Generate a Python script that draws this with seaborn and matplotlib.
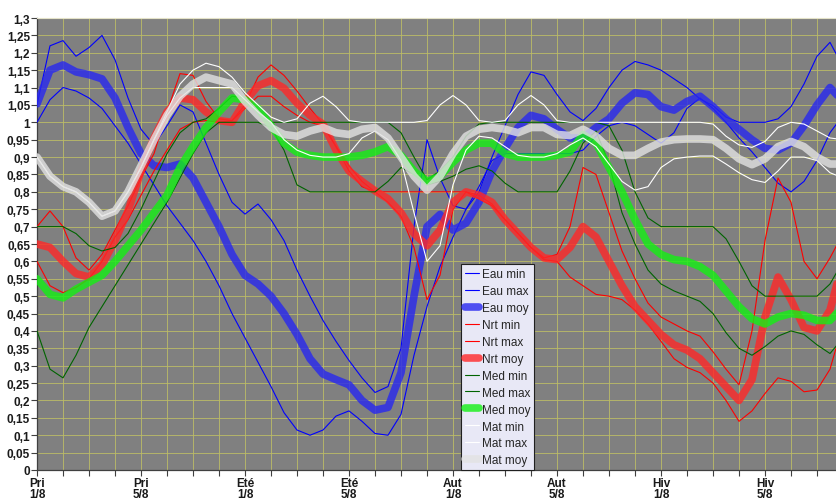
import matplotlib
matplotlib.use("Agg")
import matplotlib.pyplot as plt
import numpy as np
import pandas as pd
import seaborn as sns
from matplotlib.ticker import FuncFormatter, MultipleLocator

# x axis: one step per eighth of a season, curves read every half step
season_labels = ["Pri\n1/8", "Pri\n5/8", "Eté\n1/8", "Eté\n5/8",
                 "Aut\n1/8", "Aut\n5/8", "Hiv\n1/8", "Hiv\n5/8"]
steps = np.arange(63) * 0.5

eau_min = [1.0, 1.065, 1.10, 1.09, 1.07, 1.04, 0.99, 0.94, 0.88, 0.82,
           0.76, 0.71, 0.66, 0.60, 0.53, 0.45, 0.38, 0.31, 0.24, 0.165,
           0.115, 0.10, 0.115, 0.155, 0.17, 0.14, 0.105, 0.10, 0.16, 0.33,
           0.47, 0.585, 0.67, 0.75, 0.815, 0.89, 0.91, 0.91, 0.91, 0.91,
           0.91, 0.91, 0.92, 0.96, 0.99, 1.0, 0.99, 0.965, 0.94, 0.97,
           1.04, 1.07, 1.04, 1.0, 0.955, 0.915, 0.87, 0.825, 0.80, 0.83,
           0.89, 0.97, 1.02]
eau_max = [1.05, 1.22, 1.235, 1.19, 1.215, 1.25, 1.18, 1.07, 0.98, 0.935,
           0.99, 1.05, 1.03, 0.94, 0.85, 0.77, 0.736, 0.765, 0.72, 0.66,
           0.575, 0.50, 0.43, 0.37, 0.315, 0.265, 0.223, 0.24, 0.35, 0.70,
           0.95, 0.84, 0.76, 0.75, 0.80, 0.90, 0.99, 1.08, 1.145, 1.135,
           1.08, 1.03, 1.005, 1.04, 1.10, 1.15, 1.175, 1.165, 1.15, 1.125,
           1.10, 1.067, 1.048, 1.015, 1.0, 1.0, 1.0, 1.01, 1.045, 1.11,
           1.19, 1.23, 1.16]
eau_moy = [1.053, 1.15, 1.165, 1.145, 1.137, 1.125, 1.07, 0.985, 0.91, 0.875,
           0.87, 0.88, 0.84, 0.77, 0.70, 0.62, 0.56, 0.535, 0.50, 0.45,
           0.39, 0.32, 0.276, 0.26, 0.245, 0.20, 0.172, 0.18, 0.28, 0.50,
           0.70, 0.735, 0.69, 0.71, 0.77, 0.86, 0.925, 0.985, 1.02, 1.01,
           0.98, 0.955, 0.955, 0.985, 1.01, 1.055, 1.085, 1.08, 1.045, 1.035,
           1.06, 1.075, 1.045, 1.01, 0.98, 0.95, 0.925, 0.92, 0.94, 0.99,
           1.05, 1.10, 1.06]

nrt_min = [0.60, 0.53, 0.51, 0.525, 0.55, 0.60, 0.67, 0.72, 0.79, 0.86,
           0.92, 0.98, 1.0, 1.005, 1.0, 1.005, 1.04, 1.075, 1.075, 1.045,
           1.02, 1.0, 0.99, 0.93, 0.875, 0.83, 0.80, 0.77, 0.73, 0.64,
           0.49, 0.56, 0.75, 0.80, 0.78, 0.76, 0.72, 0.68, 0.64, 0.605,
           0.60, 0.555, 0.53, 0.505, 0.50, 0.49, 0.46, 0.42, 0.37, 0.32,
           0.295, 0.28, 0.25, 0.20, 0.14, 0.17, 0.22, 0.265, 0.255, 0.225,
           0.23, 0.29, 0.42]
nrt_max = [0.70, 0.745, 0.70, 0.61, 0.575, 0.62, 0.69, 0.76, 0.84, 0.91,
           1.03, 1.14, 1.135, 1.06, 1.01, 1.005, 1.05, 1.13, 1.165, 1.135,
           1.09, 1.04, 0.995, 0.93, 0.86, 0.815, 0.80, 0.80, 0.80, 0.80,
           0.80, 0.80, 0.80, 0.80, 0.79, 0.765, 0.72, 0.68, 0.64, 0.61,
           0.62, 0.70, 0.87, 0.85, 0.74, 0.63, 0.55, 0.48, 0.44, 0.42,
           0.40, 0.385, 0.34, 0.29, 0.245, 0.40, 0.66, 0.84, 0.77, 0.60,
           0.55, 0.61, 0.68]
nrt_moy = [0.65, 0.64, 0.60, 0.565, 0.555, 0.59, 0.66, 0.745, 0.86, 0.955,
           1.03, 1.07, 1.065, 1.03, 1.005, 1.0, 1.06, 1.105, 1.12, 1.098,
           1.055, 1.02, 0.995, 0.92, 0.86, 0.83, 0.803, 0.78, 0.74, 0.68,
           0.645, 0.69, 0.77, 0.80, 0.79, 0.77, 0.72, 0.68, 0.64, 0.61,
           0.605, 0.64, 0.70, 0.67, 0.60, 0.53, 0.47, 0.43, 0.39, 0.36,
           0.345, 0.32, 0.28, 0.24, 0.20, 0.26, 0.44, 0.555, 0.49, 0.41,
           0.40, 0.46, 0.60]

med_min = [0.40, 0.29, 0.265, 0.33, 0.41, 0.47, 0.53, 0.59, 0.65, 0.71,
           0.77, 0.84, 0.91, 0.97, 1.0, 1.0, 1.0, 1.0, 0.985, 0.92,
           0.82, 0.80, 0.80, 0.80, 0.80, 0.80, 0.80, 0.83, 0.87, 0.85,
           0.82, 0.83, 0.845, 0.865, 0.875, 0.86, 0.825, 0.80, 0.80, 0.80,
           0.80, 0.86, 0.94, 0.975, 0.88, 0.74, 0.65, 0.575, 0.535, 0.515,
           0.50, 0.485, 0.45, 0.395, 0.35, 0.33, 0.355, 0.385, 0.40, 0.39,
           0.36, 0.335, 0.38]
med_max = [0.70, 0.70, 0.70, 0.68, 0.645, 0.63, 0.64, 0.68, 0.75, 0.83,
           0.91, 0.97, 1.0, 1.01, 1.04, 1.075, 1.07, 1.03, 1.0, 1.0,
           1.0, 1.0, 1.0, 1.0, 1.0, 1.0, 1.0, 1.0, 0.97, 0.90,
           0.835, 0.86, 0.90, 0.96, 0.995, 1.0, 1.0, 1.0, 1.0, 1.0,
           1.0, 1.0, 1.0, 1.0, 0.99, 0.92, 0.80, 0.725, 0.70, 0.70,
           0.70, 0.70, 0.70, 0.665, 0.60, 0.53, 0.50, 0.50, 0.50, 0.50,
           0.50, 0.535, 0.60]
med_moy = [0.55, 0.505, 0.495, 0.52, 0.54, 0.56, 0.60, 0.645, 0.69, 0.74,
           0.79, 0.87, 0.93, 0.985, 1.03, 1.07, 1.065, 1.04, 0.99, 0.94,
           0.914, 0.905, 0.90, 0.90, 0.90, 0.905, 0.915, 0.93, 0.905, 0.86,
           0.83, 0.845, 0.885, 0.92, 0.94, 0.94, 0.91, 0.90, 0.90, 0.90,
           0.905, 0.915, 0.965, 0.94, 0.87, 0.80, 0.72, 0.65, 0.62, 0.605,
           0.60, 0.585, 0.56, 0.515, 0.47, 0.435, 0.42, 0.44, 0.45, 0.445,
           0.43, 0.43, 0.47]

mat_min = [0.90, 0.845, 0.815, 0.80, 0.77, 0.73, 0.745, 0.80, 0.87, 0.95,
           1.02, 1.07, 1.10, 1.10, 1.10, 1.10, 1.065, 1.03, 1.0, 0.95,
           0.92, 0.905, 0.90, 0.90, 0.91, 0.955, 0.975, 0.95, 0.89, 0.74,
           0.60, 0.645, 0.82, 0.92, 0.96, 0.955, 0.93, 0.905, 0.90, 0.90,
           0.91, 0.935, 0.955, 0.93, 0.88, 0.83, 0.805, 0.815, 0.87, 0.895,
           0.90, 0.903, 0.903, 0.88, 0.855, 0.835, 0.827, 0.86, 0.90, 0.90,
           0.89, 0.855, 0.84]
mat_max = [0.90, 0.845, 0.815, 0.80, 0.77, 0.73, 0.745, 0.80, 0.87, 0.95,
           1.03, 1.11, 1.15, 1.17, 1.16, 1.13, 1.085, 1.05, 1.015, 1.0,
           1.01, 1.055, 1.075, 1.045, 1.005, 1.0, 1.0, 1.0, 1.0, 1.0,
           1.005, 1.05, 1.077, 1.05, 1.005, 1.0, 1.005, 1.05, 1.077, 1.05,
           1.005, 1.0, 1.0, 1.0, 1.0, 1.0, 1.0, 1.0, 1.0, 1.0,
           1.0, 1.0, 0.995, 0.96, 0.935, 0.928, 0.945, 0.985, 1.0, 0.995,
           0.975, 0.955, 0.95]
mat_moy = [0.90, 0.845, 0.815, 0.80, 0.77, 0.73, 0.745, 0.80, 0.875, 0.95,
           1.02, 1.075, 1.11, 1.13, 1.12, 1.11, 1.06, 1.02, 0.985, 0.965,
           0.96, 0.975, 0.985, 0.97, 0.965, 0.98, 0.985, 0.955, 0.90, 0.845,
           0.805, 0.845, 0.91, 0.96, 0.98, 0.985, 0.98, 0.97, 0.985, 0.985,
           0.965, 0.962, 0.98, 0.96, 0.925, 0.905, 0.905, 0.925, 0.943, 0.95,
           0.952, 0.952, 0.95, 0.925, 0.895, 0.878, 0.895, 0.93, 0.945, 0.93,
           0.90, 0.88, 0.88]

# name, values, colour, width, alpha  (drawn in legend order, last on top)
series = [
    ("Eau min", eau_min, "#0000ff", 0.8, 1.0),
    ("Eau max", eau_max, "#0000ff", 0.8, 1.0),
    ("Eau moy", eau_moy, "#2828f0", 5.5, 0.8),
    ("Nrt min", nrt_min, "#ff0000", 0.8, 1.0),
    ("Nrt max", nrt_max, "#ff0000", 0.8, 1.0),
    ("Nrt moy", nrt_moy, "#ff2828", 5.5, 0.8),
    ("Med min", med_min, "#006400", 0.8, 1.0),
    ("Med max", med_max, "#006400", 0.8, 1.0),
    ("Med moy", med_moy, "#14f014", 5.5, 0.8),
    ("Mat min", mat_min, "#ffffff", 0.8, 1.0),
    ("Mat max", mat_max, "#ffffff", 0.8, 1.0),
    ("Mat moy", mat_moy, "#e2e2e2", 5.5, 0.8),
]

df = pd.DataFrame({"pos": steps})
for name, vals, *_ in series:
    df[name] = vals

sns.set_style("white", {"axes.facecolor": "#808080"})
plt.rcParams["font.family"] = ["Liberation Sans", "DejaVu Sans"]

fig = plt.figure(figsize=(8.37, 5.02), dpi=100)
ax = fig.add_axes([37 / 837, 31 / 502, 800 / 837, 452 / 502])

for name, vals, color, lw, alpha in series:
    sns.lineplot(data=df, x="pos", y=name, ax=ax, color=color,
                 linewidth=lw, alpha=alpha, label=name, zorder=3)

ax.set_xlim(0, 800 / 26)
ax.set_ylim(0, 1.3)

# grid: every eighth on x, every 0.05 on y
ax.xaxis.set_minor_locator(MultipleLocator(1))
ax.yaxis.set_major_locator(MultipleLocator(0.05))
ax.set_xticks(np.arange(0, 32, 4))
ax.set_xticklabels(season_labels)
ax.grid(True, which="both", color="#bcbc66", linewidth=0.6, zorder=1)
ax.set_axisbelow(True)

ax.yaxis.set_major_formatter(FuncFormatter(
    lambda v, _: f"{round(v, 2):g}".replace(".", ",")))

ax.tick_params(axis="both", which="both", direction="out", length=4,
               width=0.8, color="#404040", left=True, bottom=True)
ax.tick_params(axis="y", labelsize=8.5, pad=1)
ax.tick_params(axis="x", labelsize=8.5, pad=1)
for lab in ax.get_xticklabels() + ax.get_yticklabels():
    lab.set_fontweight("bold")
    lab.set_color("#1a1a1a")
for lab in ax.get_xticklabels():
    lab.set_linespacing(0.95)

ax.set_xlabel("")
ax.set_ylabel("")
for side in ("left", "bottom"):
    ax.spines[side].set_color("#404040")
    ax.spines[side].set_linewidth(0.9)
ax.spines["top"].set_color("#e4e2c8")
ax.spines["right"].set_visible(False)

leg = ax.legend(loc="lower left", bbox_to_anchor=((461 - 37) / 800, 0.0),
                borderaxespad=0, fontsize=8.5, frameon=True, fancybox=False,
                handlelength=1.2, handletextpad=0.3, labelspacing=0.42,
                borderpad=0.3)
leg.get_frame().set_facecolor("#e8e8f6")
leg.get_frame().set_edgecolor("#202020")
leg.get_frame().set_linewidth(0.8)
leg.get_frame().set_alpha(1)
leg.set_zorder(10)

fig.savefig("out.png", dpi=100, facecolor="white")
